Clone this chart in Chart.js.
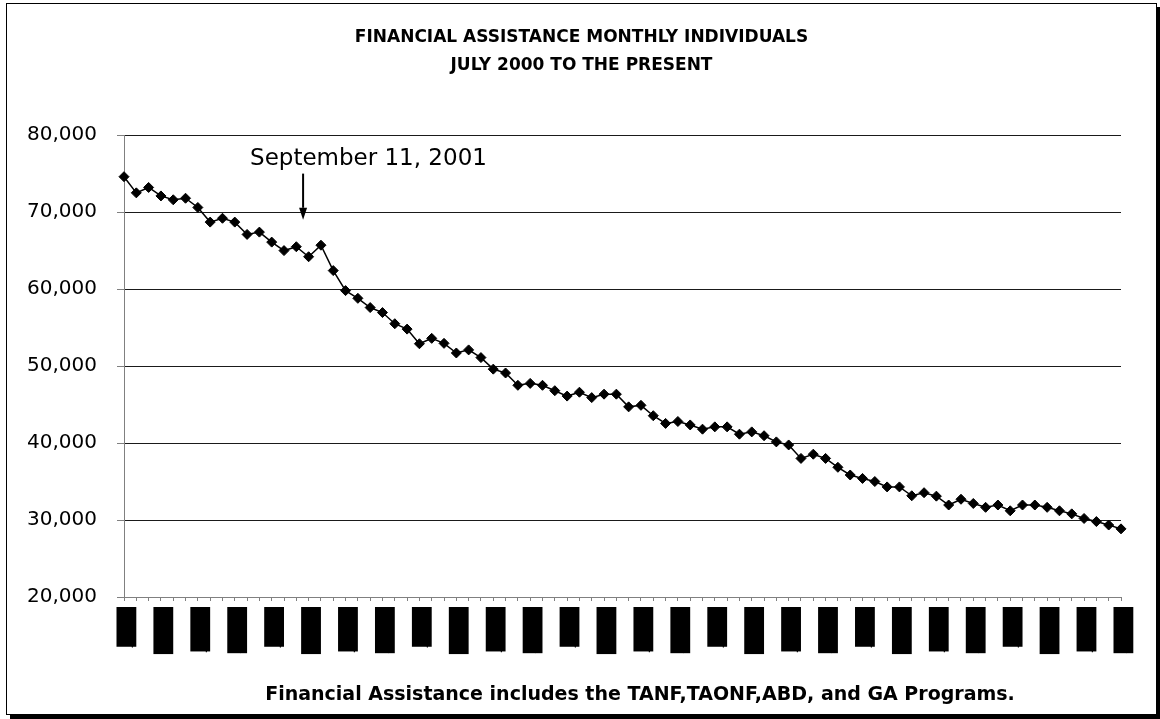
<!DOCTYPE html>
<html>
<head>
<meta charset="utf-8">
<script src="https://cdn.jsdelivr.net/npm/chart.js@4"></script>
<style>
  html, body { margin: 0; padding: 0; background: #fff; }
  #wrap { position: relative; width: 1160px; height: 719px; overflow: hidden; }
  #frame { position: absolute; left: 6px; top: 3px; width: 1149px; height: 710px;
           border: 1px solid #000; box-shadow: 4px 4px 0 #000; background: #fff; }
  canvas { position: absolute; left: 0; top: 0; }
</style>
</head>
<body>
<div id="wrap">
  <div id="frame"></div>
  <canvas id="chart" width="1160" height="719"></canvas>
</div>
<script>
// Month labels, July 2000 onward
const months = [
  'Jul-00','Aug-00','Sep-00','Oct-00','Nov-00','Dec-00',
  'Jan-01','Feb-01','Mar-01','Apr-01','May-01','Jun-01','Jul-01','Aug-01','Sep-01','Oct-01','Nov-01','Dec-01',
  'Jan-02','Feb-02','Mar-02','Apr-02','May-02','Jun-02','Jul-02','Aug-02','Sep-02','Oct-02','Nov-02','Dec-02',
  'Jan-03','Feb-03','Mar-03','Apr-03','May-03','Jun-03','Jul-03','Aug-03','Sep-03','Oct-03','Nov-03','Dec-03',
  'Jan-04','Feb-04','Mar-04','Apr-04','May-04','Jun-04','Jul-04','Aug-04','Sep-04','Oct-04','Nov-04','Dec-04',
  'Jan-05','Feb-05','Mar-05','Apr-05','May-05','Jun-05','Jul-05','Aug-05','Sep-05','Oct-05','Nov-05','Dec-05',
  'Jan-06','Feb-06','Mar-06','Apr-06','May-06','Jun-06','Jul-06','Aug-06','Sep-06','Oct-06','Nov-06','Dec-06',
  'Jan-07','Feb-07','Mar-07','Apr-07'
];

// Monthly count of individuals receiving financial assistance
const individuals = [
  74600, 72500, 73200, 72100, 71600, 71800,
  70600, 68700, 69200, 68700, 67100, 67400, 66100, 65000, 65500, 64200, 65700, 62400,
  59800, 58800, 57600, 56950, 55500, 54800, 52900, 53600, 52950, 51700, 52100, 51100,
  49600, 49100, 47500, 47750, 47500, 46800, 46100, 46600, 45900, 46350, 46350, 44700,
  44900, 43550, 42550, 42800, 42350, 41800, 42100, 42100, 41150, 41450, 40950, 40150,
  39750, 38000, 38550, 38000, 36850, 35850, 35400, 35000, 34300, 34300, 33150, 33550,
  33100, 31950, 32700, 32150, 31650, 31950, 31200, 31950, 31950, 31650, 31200, 30800,
  30200, 29800, 29350, 28850
];

const yRange = { min: 20000, max: 80000, step: 10000 };
const labelEvery = 3;

const titleLines = ['FINANCIAL ASSISTANCE MONTHLY INDIVIDUALS', 'JULY 2000 TO THE PRESENT'];
const footnote = 'Financial Assistance includes the TANF,TAONF,ABD, and GA Programs.';
const eventNote = 'September 11, 2001';

// Labelled arrow pointing at a month on the series
const eventMarker = {
  id: 'eventMarker',
  afterDatasetsDraw(chart, args, o) {
    const { ctx, scales: { x, y } } = chart;
    const ax = x.getPixelForValue(o.index);
    const yTop = y.getPixelForValue(o.from);
    const yTip = y.getPixelForValue(o.to);
    ctx.save();
    ctx.strokeStyle = o.color;
    ctx.fillStyle = o.color;
    ctx.lineWidth = 2;
    ctx.beginPath();
    ctx.moveTo(ax, yTop);
    ctx.lineTo(ax, yTip - o.headLength);
    ctx.stroke();
    ctx.beginPath();
    ctx.moveTo(ax - o.headWidth / 2, yTip - o.headLength);
    ctx.lineTo(ax + o.headWidth / 2, yTip - o.headLength);
    ctx.lineTo(ax, yTip);
    ctx.closePath();
    ctx.fill();
    ctx.font = o.font;
    ctx.textAlign = 'left';
    ctx.textBaseline = 'alphabetic';
    ctx.fillText(o.text, x.getPixelForValue(o.textIndex), y.getPixelForValue(o.textValue));
    ctx.restore();
  }
};

// Footnote line under the month axis
const footnoteLine = {
  id: 'footnoteLine',
  afterDraw(chart, args, o) {
    const { ctx } = chart;
    ctx.save();
    ctx.fillStyle = o.color;
    ctx.font = o.font;
    ctx.textAlign = 'center';
    ctx.textBaseline = 'middle';
    ctx.fillText(o.text, o.x, o.y);
    ctx.restore();
  }
};

new Chart(document.getElementById('chart'), {
  type: 'line',
  data: {
    labels: months,
    datasets: [{
      data: individuals,
      borderColor: '#000',
      borderWidth: 1.5,
      pointStyle: 'rectRot',
      pointRadius: 5,
      pointBorderWidth: 1,
      pointBackgroundColor: '#000',
      pointBorderColor: '#000',
      tension: 0,
      clip: false
    }]
  },
  options: {
    responsive: false,
    animation: false,
    devicePixelRatio: 1,
    layout: { padding: { left: 6, right: 3, top: 0, bottom: 34 } },
    plugins: {
      legend: { display: false },
      tooltip: { enabled: false },
      title: {
        display: true,
        text: titleLines,
        color: '#000',
        font: { family: 'DejaVu Sans', size: 17, weight: 'bold', lineHeight: 1.68 },
        padding: { top: 23, bottom: 55 }
      },
      footnoteLine: {
        text: footnote,
        x: 640,
        y: 695,
        color: '#000',
        font: 'bold 19px "DejaVu Sans"'
      },
      eventMarker: {
        text: eventNote,
        index: 14.55,
        from: 75000,
        to: 69000,
        textIndex: 10.24,
        textValue: 76100,
        headLength: 12,
        headWidth: 8,
        color: '#000',
        font: '23px "DejaVu Sans"'
      }
    },
    scales: {
      x: {
        type: 'category',
        offset: false,
        grid: { display: true, drawOnChartArea: false, drawTicks: true, tickLength: 4, tickColor: '#808080' },
        border: { color: '#808080', width: 1 },
        ticks: {
          autoSkip: false,
          minRotation: 90,
          maxRotation: 90,
          padding: 6,
          labelOffset: -6,
          color: '#000',
          font: { family: 'DejaVu Sans', size: 14 },
          callback: (v, i) => (i % labelEvery === 0 ? months[i] : ''),
          showLabelBackdrop: (c) => c.index % labelEvery === 0,
          backdropColor: '#000',
          backdropPadding: { top: 1.5, bottom: 1.5, left: 0, right: 0 }
        },
        afterFit(scale) { scale.height = 88; }
      },
      y: {
        min: yRange.min,
        max: yRange.max,
        ticks: {
          stepSize: yRange.step,
          padding: 20,
          color: '#000',
          font: { family: 'DejaVu Sans', size: 20 },
          callback: (v) => v.toLocaleString('en-US')
        },
        grid: {
          color: (c) => (c.tick && c.tick.value === yRange.min ? '#808080' : '#1a1a1a'),
          tickLength: 7,
          tickColor: '#808080'
        },
        border: { color: '#808080', width: 1 },
        afterFit(scale) { scale.width = 118; }
      },
      // empty margin axis on the right edge of the plot
      margin: {
        type: 'linear',
        position: 'right',
        display: true,
        grid: { display: false, drawTicks: false },
        border: { display: false },
        ticks: { display: false },
        afterFit(scale) { scale.width = 36; }
      }
    }
  },
  plugins: [eventMarker, footnoteLine]
});
</script>
</body>
</html>
